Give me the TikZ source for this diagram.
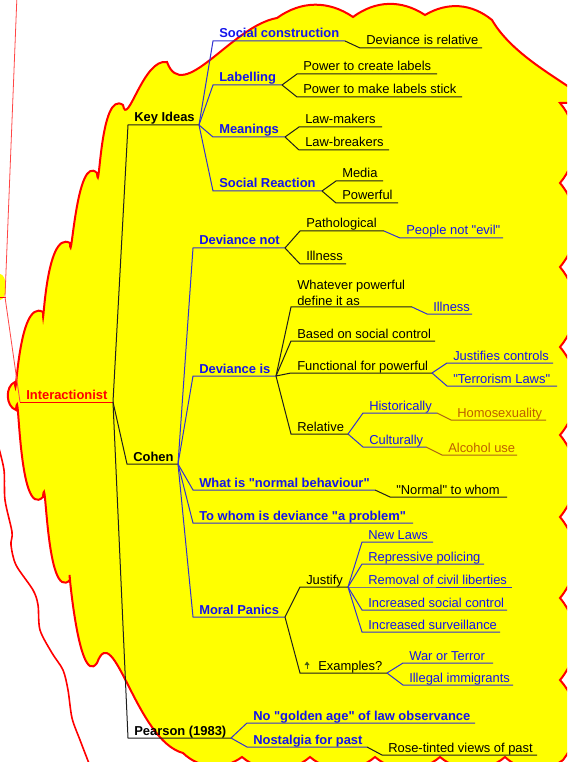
\documentclass[tikz,border=0pt]{standalone}
\usepackage{fontspec}
\setmainfont{Liberation Sans}[Ligatures=TeXOff]
\usetikzlibrary{calc}
\definecolor{cYellow}{RGB}{255,255,0}
\definecolor{cRed}{RGB}{255,0,0}
\definecolor{cPink}{RGB}{255,70,70}
\definecolor{cBlueT}{RGB}{20,20,235}
\definecolor{cBlueL}{RGB}{50,50,210}
\definecolor{cBrownT}{RGB}{190,95,0}
\definecolor{cBrownL}{RGB}{170,100,20}
\definecolor{cBlackL}{RGB}{30,30,30}
\definecolor{cOlive}{RGB}{70,90,20}
\newcommand\mmtopic[6]{%
  \coordinate (#1-s) at (#2,#4);
  \coordinate (#1-e) at (#3,#4);
  \node[#5] (#1) at (#2+6,#4-3) {#6};}
\newcommand\mmlink[3]{\draw[#3] (#1-e) -- (#2-s) -- (#2-e);}
\tikzset{
  txt/.style={anchor=base west, inner sep=0pt, font=\fontsize{9.7}{11.6}\selectfont},
  nBlack/.style={txt, text=black},
  nBold/.style={txt, text=black, font=\fontsize{9.7}{11.6}\selectfont\bfseries},
  nBlue/.style={txt, text=cBlueT},
  nBlueBold/.style={txt, text=cBlueT, font=\fontsize{9.7}{11.6}\selectfont\bfseries},
  nBrown/.style={txt, text=cBrownT},
  nRedBold/.style={txt, text=cRed, font=\fontsize{9.7}{11.6}\selectfont\bfseries},
  lBlack/.style={draw=cBlackL, line width=0.75pt},
  lBlue/.style={draw=cBlueL, line width=0.75pt},
  lBrown/.style={draw=cBrownL, line width=0.75pt},
  lRed/.style={draw=cRed, line width=0.75pt},
  lThin/.style={draw=cPink, line width=0.6pt},
  cloud/.style={fill=cYellow, draw=cRed, line width=1.5pt},
}
\begin{document}
\begin{tikzpicture}[x=0.75pt,y=-0.75pt]
\useasboundingbox (0,0) rectangle (567,762);
\clip (0,0) rectangle (567,762);
% cloud
\path[cloud]
 (97,663) to[out=235,in=95] (70,580)
 to[out=225,in=85] (43,497)
 to[out=225,in=85] (16,410)
 to[bend left=70] (15,382)
 to[out=272,in=150] (43,312)
 to[out=270,in=150] (70,243)
 to[out=272,in=135] (97,173)
 to[out=275,in=145] (123,105)
 to[out=280,in=170] (167,62)
 to[out=290,in=190] (277,18)
 to[bend left=35] (353,17)
 to[bend left=35] (425,15)
 to[bend left=35] (492,20)
 to[out=300,in=0,looseness=1.5] (560,103)
 to[bend left=40] (560,183)
 to[bend left=40] (560,267)
 to[bend left=40] (560,347)
 to[bend left=40] (560,435)
 to[bend left=40] (560,517)
 to[bend left=40] (560,598)
 to[bend left=40] (560,680)
 to[bend left=40] (563,760)
 to[bend left=40] (505,757)
 to[bend left=40] (440,757)
 to[bend left=40] (375,757)
 to[bend left=40] (310,757)
 to[bend left=40] (242,757)
 to[bend left=40] (183,753)
 to[out=165,in=70] (97,663) -- cycle;
% left extras
\fill[cYellow] (0,287) ellipse [x radius=6, y radius=13];
\draw[red, line width=0.75pt] (0,297.5) -- (6,297.5);
\draw[cRed, line width=1.2pt] plot[smooth] coordinates {(-2,445) (4,470) (5,500) (12,532) (11,545) (16,565) (33,590) (38,605) (40,630) (52,653) (63,670) (68,690) (72,718) (80,740) (90,766)};
% root
\mmtopic{inter}{20}{113}{402}{nRedBold}{Interactionist}
\draw[lRed] (inter-s) -- (inter-e);
\coordinate (ptop) at (17,-5);
\coordinate (pbend) at (5,297);
\draw[lThin] (ptop) -- (pbend) -- (inter-s);
% main branches
\mmtopic{keyideas}{128}{199}{125}{nBold}{Key Ideas}
\mmtopic{cohen}{127}{178}{464}{nBold}{Cohen}
\mmtopic{pearson}{128}{231}{738}{nBold}{Pearson (1983)}
\mmlink{inter}{keyideas}{lBlack}
\mmlink{inter}{cohen}{lBlack}
\mmlink{inter}{pearson}{lBlack}
% Key Ideas
\mmtopic{socc}{213}{345}{41}{nBlueBold}{Social construction}
\mmtopic{devrel}{360}{482}{48}{nBlack}{Deviance is relative}
\mmtopic{labelling}{213}{282}{85}{nBlueBold}{Labelling}
\mmtopic{pcreate}{297}{437}{74}{nBlack}{Power to create labels}
\mmtopic{pstick}{297}{462}{97}{nBlack}{Power to make labels stick}
\mmtopic{meanings}{213}{285}{137}{nBlueBold}{Meanings}
\mmtopic{lawm}{299}{382}{127}{nBlack}{Law-makers}
\mmtopic{lawb}{299}{389}{150}{nBlack}{Law-breakers}
\mmtopic{socr}{213}{322}{191}{nBlueBold}{Social Reaction}
\mmtopic{media}{336}{383}{181}{nBlack}{Media}
\mmtopic{powerful}{336}{398}{203}{nBlack}{Powerful}
\mmlink{keyideas}{socc}{lBlue}
\mmlink{socc}{devrel}{lBlack}
\mmlink{keyideas}{labelling}{lBlue}
\mmlink{labelling}{pcreate}{lBlack}
\mmlink{labelling}{pstick}{lBlack}
\mmlink{keyideas}{meanings}{lBlue}
\mmlink{meanings}{lawm}{lBlack}
\mmlink{meanings}{lawb}{lBlack}
\mmlink{keyideas}{socr}{lBlue}
\mmlink{socr}{media}{lBlack}
\mmlink{socr}{powerful}{lBlack}
% Cohen
\mmtopic{devnot}{193}{285}{248}{nBlueBold}{Deviance not}
\mmtopic{patho}{300}{384}{231}{nBlack}{Pathological}
\mmtopic{evil}{400}{503}{238}{nBlue}{People not "evil"}
\mmtopic{illnessA}{300}{346}{264}{nBlack}{Illness}
\mmtopic{devis}{193}{276}{376}{nBlueBold}{Deviance is}
\coordinate (whatever-s) at (291,307);
\coordinate (whatever-e) at (412,307);
\node[txt, anchor=south west, align=left, text=black] (whatever) at (297,305.5) {Whatever powerful\\define it as};
\mmtopic{illnessB}{427}{472}{314}{nBlue}{Illness}
\mmtopic{based}{291}{435}{341}{nBlack}{Based on social control}
\mmtopic{functional}{291}{432}{373}{nBlack}{Functional for powerful}
\mmtopic{justifies}{447}{553}{363}{nBlue}{Justifies controls}
\mmtopic{terror}{447}{557}{386}{nBlue}{"Terrorism Laws"}
\mmtopic{relative}{291}{348}{434}{nBlack}{Relative}
\mmtopic{hist}{363}{437}{413}{nBlue}{Historically}
\mmtopic{homo}{451}{546}{420}{nBrown}{Homosexuality}
\mmtopic{cult}{363}{426}{447}{nBlue}{Culturally}
\mmtopic{alcohol}{442}{517}{455}{nBrown}{Alcohol use}
\mmtopic{normal}{193}{375}{490}{nBlueBold}{What is "normal behaviour"}
\mmtopic{towhom}{390}{507}{497}{nBlack}{"Normal" to whom}
\mmtopic{problem}{193}{413}{523}{nBlueBold}{To whom is deviance "a problem"}
\mmtopic{moral}{193}{285}{617}{nBlueBold}{Moral Panics}
\mmtopic{justify}{300}{348}{587}{nBlack}{Justify}
\mmtopic{newlaws}{362}{433}{542}{nBlue}{New Laws}
\mmtopic{repress}{362}{484}{564}{nBlue}{Repressive policing}
\mmtopic{removal}{362}{512}{587}{nBlue}{Removal of civil liberties}
\mmtopic{incsc}{362}{507}{610}{nBlue}{Increased social control}
\mmtopic{incsv}{362}{500}{632}{nBlue}{Increased surveillance}
\coordinate (examples-s) at (300,673);
\coordinate (examples-e) at (387,673);
\node[nBlack] (examples) at (318,670) {Examples?};
\mmtopic{war}{403}{493}{663}{nBlue}{War or Terror}
\mmtopic{illegal}{403}{513}{685}{nBlue}{Illegal immigrants}
\mmlink{cohen}{devnot}{lBlue}
\mmlink{devnot}{patho}{lBlack}
\mmlink{patho}{evil}{lBlue}
\mmlink{devnot}{illnessA}{lBlack}
\mmlink{cohen}{devis}{lBlue}
\mmlink{devis}{whatever}{lBlack}
\mmlink{whatever}{illnessB}{lBlue}
\mmlink{devis}{based}{lBlack}
\mmlink{devis}{functional}{lBlack}
\mmlink{functional}{justifies}{lBlue}
\mmlink{functional}{terror}{lBlue}
\mmlink{devis}{relative}{lBlack}
\mmlink{relative}{hist}{lBlue}
\mmlink{hist}{homo}{lBrown}
\mmlink{relative}{cult}{lBlue}
\mmlink{cult}{alcohol}{lBrown}
\mmlink{cohen}{normal}{lBlue}
\mmlink{normal}{towhom}{lBlack}
\mmlink{cohen}{problem}{lBlue}
\mmlink{cohen}{moral}{lBlue}
\mmlink{moral}{justify}{lBlack}
\mmlink{justify}{newlaws}{lBlue}
\mmlink{justify}{repress}{lBlue}
\mmlink{justify}{removal}{lBlue}
\mmlink{justify}{incsc}{lBlue}
\mmlink{justify}{incsv}{lBlue}
\mmlink{moral}{examples}{lBlack}
\mmlink{examples}{war}{lBlue}
\mmlink{examples}{illegal}{lBlue}
% icon next to Examples?
\fill[cOlive] (304.5,665) -- (309.5,665) -- (307,661.5) -- cycle;
\draw[cOlive, line width=0.6pt] (307,664) -- (307,668.5);
% Pearson
\mmtopic{golden}{247}{475}{723}{nBlueBold}{No "golden age" of law observance}
\mmtopic{nostalgia}{247}{367}{747}{nBlueBold}{Nostalgia for past}
\mmtopic{rose}{382}{537}{755}{nBlack}{Rose-tinted views of past}
\mmlink{pearson}{golden}{lBlue}
\mmlink{pearson}{nostalgia}{lBlue}
\mmlink{nostalgia}{rose}{lBlack}
\end{tikzpicture}
\end{document}
